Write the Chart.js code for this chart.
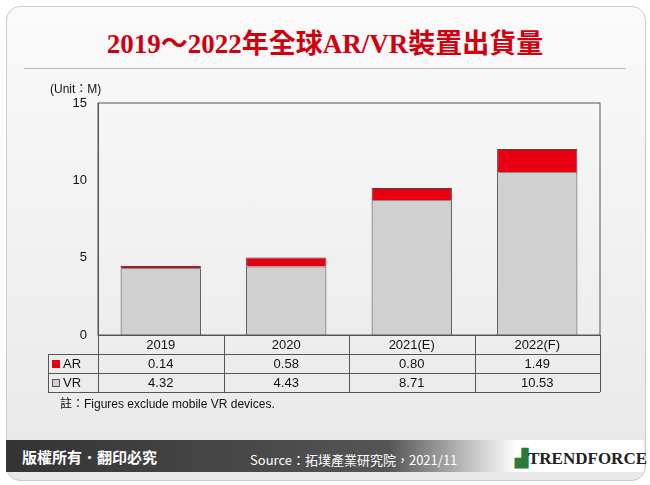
<!DOCTYPE html>
<html><head><meta charset="utf-8">
<script src="https://cdn.jsdelivr.net/npm/chart.js@4"></script>
<style>
body{margin:0;width:650px;height:485px;overflow:hidden;font-family:"Liberation Sans",Arial,sans-serif}
#bg{position:absolute;left:6px;top:6px;width:638px;height:473px;border-radius:14px;background:linear-gradient(#fafafa,#e8e8e8);border:1px solid #ccc}
#title{position:absolute;top:22px;width:650px;text-align:center;color:#d0000e;font:bold 27px "Liberation Serif","Noto Sans CJK TC",serif}
#line{position:absolute;left:24px;right:24px;top:68px;height:1px;background:#bbb}
#foot{position:absolute;left:6px;top:440px;width:638px;height:32px;background:linear-gradient(90deg,#333,#555 60%,#fff 80%);}
#cr{position:absolute;left:22px;top:446px;color:#fff;font:bold 15px "Noto Sans CJK TC"}
#src{position:absolute;left:250px;top:450px;color:#fff;font:13px "Noto Sans CJK TC"}
#logo{position:absolute;left:515px;top:448px;color:#222;font:bold 17px "Liberation Serif";white-space:nowrap}
canvas{position:absolute;left:0;top:0}
</style></head><body>
<div id="bg"></div>
<div id="title">2019～2022年全球AR/VR裝置出貨量</div>
<div id="line"></div>
<div id="foot"></div>
<div id="cr">版權所有．翻印必究</div>
<div id="src">Source：拓墣產業研究院，2021/11</div>
<div id="logo"><span style="color:#2a7a3a">▟</span>TRENDFORCE</div>
<canvas id="c" width="650" height="485"></canvas>
<script>
const categories = ['2019', '2020', '2021(E)', '2022(F)'];
const vr = [4.32, 4.43, 8.71, 10.53];
const ar = [0.14, 0.58, 0.80, 1.49];
const yTicks = [0, 5, 10, 15];

const tablePlugin = {
  id: 'table',
  afterDraw(chart) {
    const { ctx, chartArea: { left, right, bottom, top }, scales: { x } } = chart;
    const L = 48, rows = [bottom, bottom + 19, bottom + 38, bottom + 57];
    ctx.save();
    ctx.strokeStyle = '#555'; ctx.lineWidth = 1;
    ctx.strokeRect(left, top, right - left, bottom - top);
    ctx.beginPath();
    rows.forEach((y, i) => { ctx.moveTo(i ? L : left, y + .5); ctx.lineTo(right, y + .5); });
    ctx.moveTo(L + .5, rows[1]); ctx.lineTo(L + .5, rows[3]);
    const w = (right - left) / categories.length;
    for (let i = 0; i <= categories.length; i++) {
      const xx = Math.round(left + i * w) + .5;
      ctx.moveTo(xx, bottom); ctx.lineTo(xx, rows[3]);
    }
    ctx.stroke();
    ctx.font = '13px "Liberation Sans"'; ctx.fillStyle = '#111';
    ctx.textAlign = 'center'; ctx.textBaseline = 'middle';
    categories.forEach((c, i) => {
      const cx = x.getPixelForValue(i);
      ctx.fillText(c, cx, rows[0] + 10);
      ctx.fillText(ar[i].toFixed(2), cx, rows[1] + 10);
      ctx.fillText(vr[i].toFixed(2), cx, rows[2] + 10);
    });
    ctx.textAlign = 'left';
    ctx.fillStyle = '#e60012'; ctx.fillRect(52, rows[1] + 6, 8, 8);
    ctx.fillStyle = '#d0d0d0'; ctx.fillRect(52, rows[2] + 6, 8, 8);
    ctx.strokeRect(52.5, rows[2] + 6.5, 7, 7);
    ctx.fillStyle = '#111';
    ctx.fillText('AR', 63, rows[1] + 10);
    ctx.fillText('VR', 63, rows[2] + 10);
    ctx.font = '12px "Liberation Sans","Noto Sans CJK TC"';
    ctx.fillText('(Unit：M)', 50, 90);
    ctx.fillText('註：Figures exclude mobile VR devices.', 60, 405);
    ctx.restore();
  }
};

new Chart(document.getElementById('c'), {
  type: 'bar',
  data: {
    labels: categories,
    datasets: [
      { label: 'VR', data: vr, backgroundColor: '#d0d0d0', borderColor: '#444', borderWidth: 1 },
      { label: 'AR', data: ar, backgroundColor: '#e60012', borderColor: '#444', borderWidth: 1 }
    ]
  },
  options: {
    responsive: false, animation: false,
    layout: { padding: { left: 60, top: 103, right: 50, bottom: 150 } },
    plugins: { legend: { display: false }, tooltip: { enabled: false } },
    datasets: { bar: { categoryPercentage: 0.64, barPercentage: 1 } },
    scales: {
      x: { stacked: true, display: false },
      y: {
        stacked: true, min: 0, max: 15,
        afterFit(s) { s.width = 38; },
        afterBuildTicks(s) { s.ticks = yTicks.map(v => ({ value: v })); },
        grid: { display: false }, border: { color: '#555' },
        ticks: { color: '#111', font: { size: 13, family: 'Liberation Sans' } }
      }
    }
  },
  plugins: [tablePlugin]
});
</script>
</body></html>
